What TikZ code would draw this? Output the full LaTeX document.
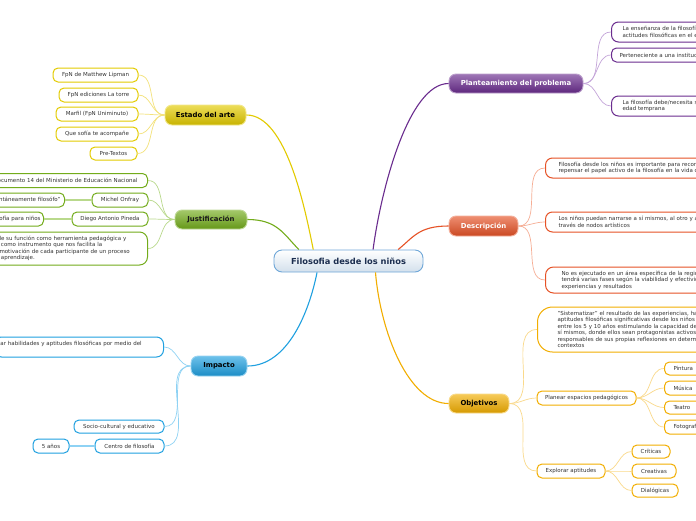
\documentclass[tikz,border=0pt]{standalone}
\usepackage{fontspec}
\setmainfont{DejaVu Sans}
\definecolor{yel}{HTML}{E3CB00}
\definecolor{yelL}{HTML}{F3E27A}
\definecolor{grn}{HTML}{73AC1B}
\definecolor{grnL}{HTML}{B9D98C}
\definecolor{blu}{HTML}{1FA0E0}
\definecolor{bluL}{HTML}{8ED2F4}
\definecolor{pur}{HTML}{6A2C8E}
\definecolor{purL}{HTML}{C4A5D9}
\definecolor{orr}{HTML}{E65226}
\definecolor{orrL}{HTML}{F6AE95}
\definecolor{org}{HTML}{F2AE00}
\definecolor{orgL}{HTML}{FAD98A}
\definecolor{ctrb}{HTML}{6FA7D8}
\definecolor{ctrf}{HTML}{D3E0EC}
\definecolor{navy}{HTML}{1C2E4F}
\definecolor{txt}{HTML}{333333}
\tikzset{
  ctr/.style={font=\bfseries\fontsize{8.3}{10}\selectfont, text=navy, top color=white, bottom color=ctrf,
    draw=ctrb, line width=0.9pt, rounded corners=8pt, inner sep=0pt},
  mainbox/.style 2 args={font=\bfseries\fontsize{6.9}{8}\selectfont, text=#2, top color=#1!65!white,
    bottom color=#1!88!black, draw=#1!45!white, line width=0.9pt, rounded corners=7pt, inner sep=0pt},
  cbox/.style={font=\fontsize{5.5}{6.5}\selectfont, text=txt, draw=#1, line width=1pt, fill=white,
    rounded corners=5pt, inner sep=0pt},
  ml/.style={draw=#1, line width=1.1pt},
  sl/.style={draw=#1, line width=0.7pt},
  tl/.style={draw=#1, line width=1.6pt}
}
\begin{document}
\begin{tikzpicture}[x=1pt,y=-1pt]
\useasboundingbox (0,0) rectangle (696,520);
\fill[white] (0,0) rectangle (696,520);
\clip (0,0) rectangle (696,520);

% center
\node[ctr, minimum width=149pt, minimum height=22pt] (c) at (348.5,261) {Filosofia desde los niños};

% main nodes
\node[mainbox={yel}{black}, minimum width=81pt, minimum height=20pt] (est) at (205.5,115) {Estado del arte};
\node[mainbox={grn}{black!90}, minimum width=72pt, minimum height=19pt] (jus) at (211,219.5) {Justificación};
\node[mainbox={blu}{black}, minimum width=56pt, minimum height=20pt] (imp) at (219,366) {Impacto};
\node[mainbox={pur}{white}, minimum width=134pt, minimum height=19pt] (pla) at (516,83.5) {Planteamiento del problema};
\node[mainbox={orr}{white}, minimum width=69pt, minimum height=20pt] (des) at (483.5,226) {Descripción};
\node[mainbox={org}{black}, minimum width=60pt, minimum height=19pt] (obj) at (479,403.5) {Objetivos};

% main connectors
\draw[ml=yel] (est.east) .. controls +(40,0) and +(-8,-40) .. (c.162);
\draw[ml=grn] (jus.east) .. controls +(30,0) and +(-15,-15) .. (c.167);
\draw[ml=blu] (imp.east) .. controls +(40,0) and +(-8,40) .. (c.200);
\draw[ml=pur] (pla.west) .. controls +(-40,0) and +(8,-60) .. (c.25);
\draw[ml=orr] (des.west) .. controls +(-30,0) and +(15,-12) .. (c.13);
\draw[ml=org] (obj.west) .. controls +(-40,0) and +(5,60) .. (c.337);

% Estado del arte
\node[cbox=yel, minimum width=85pt, minimum height=14pt] (e1) at (95.5,75) {FpN de Matthew Lipman};
\node[cbox=yel, minimum width=79pt, minimum height=14pt] (e2) at (98.5,95) {FpN ediciones La torre};
\node[cbox=yel, minimum width=82pt, minimum height=14pt] (e3) at (97,114) {Marfil (FpN Uniminuto)};
\node[cbox=yel, minimum width=82pt, minimum height=14pt] (e4) at (97,134) {Que sofía te acompañe};
\node[cbox=yel, minimum width=47pt, minimum height=13pt] (e5) at (113.5,153.5) {Pre-Textos};
\foreach \n in {e1,e2,e3,e4,e5} \draw[sl=yelL] (est.west) to[out=180,in=0] (\n.east);

% Justificacion
\node[cbox=grn, anchor=east, text width=200pt, align=right, inner xsep=10pt, minimum height=14pt] (j1) at (148,180.5) {Documento 14 del Ministerio de Educación Nacional};
\node[cbox=grn, minimum width=56pt, minimum height=14pt] (j2) at (120,200) {Michel Onfray};
\node[cbox=grn, anchor=east, text width=120pt, align=right, inner xsep=4pt, minimum height=14pt] (j2a) at (65,200) {“Ser espontáneamente filosófo”};
\node[cbox=grn, minimum width=76pt, minimum height=14pt] (j3) at (110,219) {Diego Antonio Pineda};
\node[cbox=grn, anchor=east, text width=100pt, align=right, inner xsep=3pt, minimum height=14pt] (j3a) at (44,219) {Filosofía para niños};
\node[cbox=grn, anchor=east, text width=140pt, align=left, inner xsep=8pt, minimum height=33pt, rounded corners=8pt] (j4) at (148,248.5) {le su función como herramienta pedagógica y\\\hspace*{1.5pt}como instrumento que nos facilita la\\motivación de cada participante de un proceso\\\hspace*{1.5pt}aprendizaje.};
\foreach \n in {j1,j2,j3,j4} \draw[sl=grnL] (jus.west) to[out=180,in=0] (\n.east);
\draw[tl=grnL] (j2.west) -- (j2a.east);
\draw[tl=grnL] (j3.west) -- (j3a.east);

% Impacto
\node[cbox=blu, anchor=east, text width=157pt, align=left, inner xsep=6pt, minimum height=20pt, rounded corners=7pt] (i1) at (164,347) {ar habilidades y aptitudes filosóficas por medio del\\\mbox{}};
\node[cbox=blu, minimum width=90pt, minimum height=13pt] (i2) at (119,426.5) {Socio-cultural y educativo};
\node[cbox=blu, minimum width=69pt, minimum height=14pt] (i3) at (129.5,446) {Centro de filosofía};
\node[cbox=blu, minimum width=36pt, minimum height=14pt] (i3a) at (51,446) {5 años};
\foreach \n in {i1,i2,i3} \draw[sl=bluL] (imp.west) to[out=180,in=0] (\n.east);
\draw[tl=bluL] (i3.west) -- (i3a.east);

% Planteamiento
\node[cbox=pur, anchor=west, text width=170pt, align=left, inner xsep=11pt, minimum height=20pt, rounded corners=7pt] (p1) at (611,32) {La enseñanza de la filosofía para niños posibilita\\actitudes filosóficas en el entorno escolar};
\node[cbox=pur, anchor=west, text width=170pt, align=left, inner xsep=8pt, minimum height=14pt] (p2) at (611,55) {Perteneciente a una institución educativa};
\node[cbox=pur, anchor=west, text width=170pt, align=left, inner xsep=11pt, minimum height=20pt, rounded corners=7pt] (p3) at (611,106) {La filosofía debe/necesita ser enseñada desde una\\edad temprana};
\foreach \n in {p1,p2,p3} \draw[sl=purL] (pla.east) to[out=0,in=180] (\n.west);

% Descripcion
\node[cbox=orr, anchor=west, text width=200pt, align=left, inner xsep=13pt, minimum height=20pt, rounded corners=7pt] (d1) at (545,168) {Filosofía desde los niños es importante para reconocer y\\repensar el papel activo de la filosofía en la vida cotidiana};
\node[cbox=orr, anchor=west, text width=200pt, align=left, inner xsep=13pt, minimum height=20pt, rounded corners=7pt] (d2) at (545,222) {Los niños puedan narrarse a sí mismos, al otro y al mundo a\\través de nodos artísticos};
\node[cbox=orr, anchor=west, text width=200pt, align=left, inner xsep=16pt, minimum height=26pt, rounded corners=8pt] (d3) at (545,280) {No es ejecutado en un área específica de la región, y\\tendrá varias fases según la viabilidad y efectividad de las\\experiencias y resultados};
\foreach \n in {d1,d2,d3} \draw[sl=orrL] (des.east) to[out=0,in=180] (\n.west);

% Objetivos
\node[cbox=org, anchor=west, text width=220pt, align=left, inner xsep=20pt, minimum height=45pt, rounded corners=15pt] (o1) at (537,329.5) {"Sistematizar" el resultado de las experiencias, hallando\\aptitudes filosóficas significativas desde los niños de\\entre los 5 y 10 años estimulando la capacidad de pensar\\sí mismos, donde ellos sean protagonistas activos y\\responsables de sus propias reflexiones en determinados\\contextos};
\node[cbox=org, minimum width=99pt, minimum height=14pt] (o2) at (586.5,398) {Planear espacios pedagógicos};
\node[cbox=org, minimum width=68pt, minimum height=14pt] (o3) at (571,471) {Explorar aptitudes};
\foreach \n in {o1,o2,o3} \draw[sl=orgL] (obj.east) to[out=0,in=180] (\n.west);

\node[cbox=org, anchor=west, text width=60pt, align=left, inner xsep=9pt, minimum height=13pt] (a1) at (664,368.5) {Pintura};
\node[cbox=org, anchor=west, text width=60pt, align=left, inner xsep=9pt, minimum height=14pt] (a2) at (664,388) {Música};
\node[cbox=org, anchor=west, text width=60pt, align=left, inner xsep=9pt, minimum height=13pt] (a3) at (664,407.5) {Teatro};
\node[cbox=org, anchor=west, text width=60pt, align=left, inner xsep=9pt, minimum height=14pt] (a4) at (664,427) {Fotografía};
\foreach \n in {a1,a2,a3,a4} \draw[sl=orgL] (o2.east) to[out=0,in=180] (\n.west);

\node[cbox=org, minimum width=38pt, minimum height=13pt] (x1) at (651,451.5) {Críticas};
\node[cbox=org, minimum width=44pt, minimum height=14pt] (x2) at (654,471) {Creativas};
\node[cbox=org, minimum width=46pt, minimum height=13pt] (x3) at (655,490.5) {Dialógicas};
\foreach \n in {x1,x2,x3} \draw[sl=orgL] (o3.east) to[out=0,in=180] (\n.west);
\end{tikzpicture}
\end{document}
